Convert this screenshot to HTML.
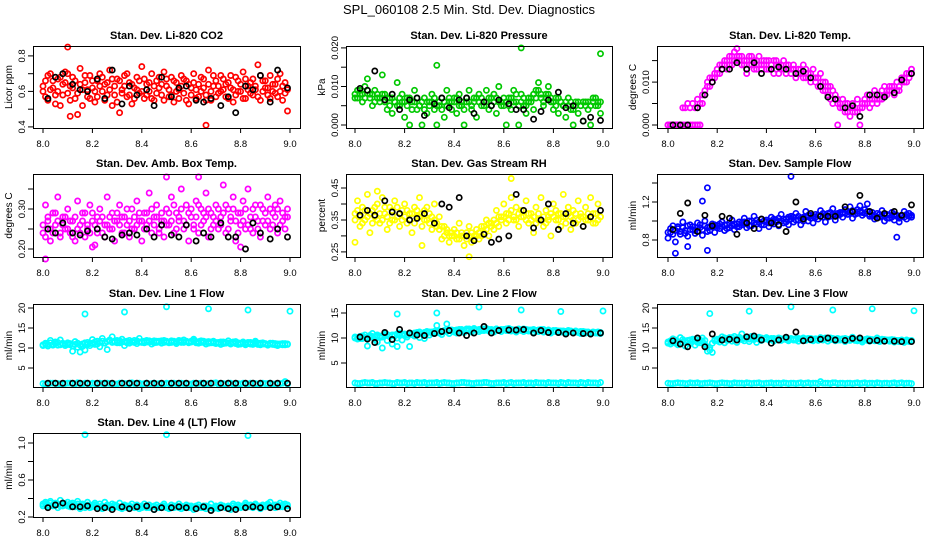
<!DOCTYPE html>
<html><head><meta charset="utf-8"><title>SPL_060108 Diagnostics</title>
<style>
html,body{margin:0;padding:0;background:#fff;}
svg{display:block;font-family:"Liberation Sans",Arial,sans-serif;}
</style></head>
<body>
<svg id="chart" width="936" height="540" viewBox="0 0 936 540" xmlns="http://www.w3.org/2000/svg">
<rect width="936" height="540" fill="#fff"/>
<text x="469" y="14" font-size="13" text-anchor="middle">SPL_060108  2.5 Min. Std. Dev. Diagnostics</text>
</svg>
<script>
// ---------- shared time arrays ----------
const times = [8.00,8.01,8.02,8.03,8.04,8.05,8.06,8.07,8.08,8.09,
8.10,8.11,8.12,8.13,8.14,8.15,8.16,8.17,8.18,8.19,
8.20,8.21,8.22,8.23,8.24,8.25,8.26,8.27,8.28,8.29,
8.30,8.31,8.32,8.33,8.34,8.35,8.36,8.37,8.38,8.39,
8.40,8.41,8.42,8.43,8.44,8.45,8.46,8.47,8.48,8.49,
8.50,8.51,8.52,8.53,8.54,8.55,8.56,8.57,8.58,8.59,
8.60,8.61,8.62,8.63,8.64,8.65,8.66,8.67,8.68,8.69,
8.70,8.71,8.72,8.73,8.74,8.75,8.76,8.77,8.78,8.79,
8.80,8.81,8.82,8.83,8.84,8.85,8.86,8.87,8.88,8.89,
8.90,8.91,8.92,8.93,8.94,8.95,8.96,8.97,8.98,8.99];
const blackTimes = [8.02,8.05,8.08,8.12,8.15,8.18,8.22,8.25,8.28,8.32,8.35,8.38,8.42,8.45,8.48,8.52,8.55,8.58,8.62,8.65,8.68,8.72,8.75,8.78,8.82,8.85,8.88,8.92,8.95,8.99];
const lowTimes = [8.00,8.02,8.04,8.06,8.08,8.10,8.12,8.14,8.16,8.18,8.20,8.22,8.24,8.26,8.28,8.30,8.32,8.34,8.36,8.38,8.40,8.42,8.44,8.46,8.48,8.50,8.52,8.54,8.56,8.58,8.60,8.62,8.64,8.66,8.68,8.70,8.72,8.74,8.76,8.78,8.80,8.82,8.84,8.86,8.88,8.90,8.92,8.94,8.96,8.98];
const lowTimes2 = [8.01,8.03,8.05,8.07,8.09,8.11,8.13,8.15,8.17,8.19,8.21,8.23,8.25,8.27,8.29,8.31,8.33,8.35,8.37,8.39,8.41,8.43,8.45,8.47,8.49,8.51,8.53,8.55,8.57,8.59,8.61,8.63,8.65,8.67,8.69,8.71,8.73,8.75,8.77,8.79,8.81,8.83,8.85,8.87,8.89,8.91,8.93,8.95,8.97,8.99];
const xTicks = [8.0,8.2,8.4,8.6,8.8,9.0];
const xTickLabels = ["8.0","8.2","8.4","8.6","8.8","9.0"];

// ---------- CO2 ----------
const co2Values = [0.60,0.66,0.55,0.70,0.62,0.58,0.67,0.52,0.64,0.71,
0.59,0.63,0.68,0.56,0.47,0.73,0.61,0.65,0.57,0.69,
0.62,0.54,0.66,0.70,0.60,0.64,0.58,0.72,0.52,0.63,
0.67,0.48,0.61,0.69,0.57,0.65,0.53,0.62,0.68,0.59,
0.74,0.56,0.64,0.60,0.70,0.55,0.66,0.62,0.58,0.71,
0.63,0.57,0.68,0.54,0.65,0.61,0.69,0.59,0.66,0.53,
0.62,0.70,0.56,0.64,0.60,0.67,0.58,0.72,0.55,0.63,
0.66,0.59,0.69,0.61,0.57,0.65,0.62,0.54,0.68,0.60,
0.64,0.71,0.56,0.63,0.59,0.67,0.61,0.75,0.55,0.66,
0.62,0.58,0.69,0.60,0.64,0.57,0.70,0.63,0.59,0.49];
const co2Values2 = [0.63,0.57,0.69,0.61,0.66,0.53,0.60,0.68,0.58,0.65,
0.70,0.55,0.62,0.66,0.59,0.64,0.52,0.69,0.61,0.56,
0.66,0.60,0.57,0.63,0.68,0.55,0.65,0.61,0.67,0.58,
0.54,0.66,0.59,0.63,0.70,0.58,0.64,0.56,0.61,0.66,
0.60,0.67,0.58,0.65,0.56,0.63,0.59,0.68,0.64,0.55,
0.67,0.61,0.58,0.66,0.60,0.56,0.63,0.67,0.55,0.64,
0.58,0.65,0.61,0.57,0.68,0.62,0.55,0.64,0.60,0.69,
0.57,0.63,0.60,0.67,0.64,0.56,0.69,0.61,0.58,0.66,
0.60,0.56,0.67,0.61,0.65,0.58,0.63,0.57,0.69,0.60,
0.66,0.62,0.56,0.64,0.59,0.67,0.60,0.55,0.65,0.61];
const co2OutlierTimes = [8.10,8.11,8.66];
const co2OutlierValues = [0.85,0.46,0.41];
const co2Black = [0.56,0.68,0.70,0.64,0.61,0.60,0.67,0.56,0.72,0.53,0.63,0.58,0.61,0.52,0.68,0.57,0.62,0.63,0.55,0.54,0.56,0.52,0.57,0.48,0.63,0.61,0.69,0.54,0.72,0.62];

// ---------- Pressure ----------
const presValues = [0.007,0.009,0.008,0.006,0.010,0.012,0.008,0.005,0.009,0.007,
0.006,0.013,0.008,0.004,0.007,0.003,0.006,0.011,0.005,0.008,
0.002,0.007,0.000,0.006,0.009,0.004,0.005,0.000,0.007,0.003,
0.006,0.008,0.004,0.000,0.005,0.007,0.002,0.009,0.006,0.004,
0.007,0.003,0.008,0.005,0.000,0.006,0.009,0.004,0.007,0.002,
0.008,0.005,0.006,0.009,0.004,0.007,0.008,0.003,0.010,0.006,
0.005,0.000,0.007,0.004,0.009,0.006,0.000,0.008,0.005,0.003,
0.007,0.006,0.004,0.009,0.011,0.007,0.005,0.008,0.010,0.006,
0.004,0.007,0.003,0.006,0.005,0.002,0.007,0.004,0.000,0.006,
0.003,0.005,0.001,0.006,0.004,0.000,0.007,0.005,0.006,0.003];
const presValues2 = [0.008,0.007,0.009,0.008,0.007,0.009,0.007,0.008,0.006,0.008,
0.007,0.008,0.006,0.007,0.005,0.007,0.006,0.005,0.007,0.006,
0.006,0.005,0.007,0.004,0.006,0.007,0.005,0.006,0.004,0.006,
0.005,0.006,0.007,0.005,0.006,0.004,0.006,0.005,0.007,0.006,
0.006,0.007,0.005,0.006,0.004,0.007,0.006,0.005,0.006,0.007,
0.006,0.007,0.005,0.006,0.007,0.005,0.006,0.007,0.006,0.005,
0.007,0.006,0.005,0.007,0.006,0.008,0.005,0.006,0.007,0.005,
0.006,0.007,0.008,0.007,0.009,0.008,0.006,0.007,0.008,0.007,
0.006,0.005,0.007,0.006,0.005,0.006,0.005,0.006,0.004,0.005,
0.006,0.005,0.006,0.005,0.006,0.005,0.006,0.007,0.005,0.006];
const presOutlierTimes = [8.67,8.33,8.99];
const presOutlierValues = [0.020,0.0155,0.0185];
const presBlack = [0.0095,0.009,0.014,0.0065,0.008,0.004,0.0065,0.007,0.0025,0.0055,0.007,0.0045,0.0065,0.007,0.003,0.006,0.005,0.0065,0.0055,0.004,0.004,0.0015,0.0035,0.0065,0.0085,0.0045,0.005,0.001,0.002,0.0012];

// ---------- Li-820 Temp ----------
const ltempValues = [0,0,0,0,0,0,0.004,0,0.005,0,
0.005,0,0.006,0,0.005,0.008,0.009,0.011,0.010,0.012,
0.013,0.012,0.014,0.015,0.013,0.016,0.014,0.017,0.015,0.016,
0.014,0.015,0.012,0.016,0.014,0.015,0.013,0.016,0.014,0.015,
0.013,0.015,0.014,0.012,0.015,0.014,0.013,0.015,0.012,0.014,
0.013,0.014,0.011,0.013,0.012,0.014,0.011,0.012,0.010,0.013,
0.011,0.009,0.012,0.008,0.010,0.007,0.009,0.005,0.007,0.006,
0.004,0.006,0.003,0.005,0.002,0.004,0.003,0.006,0.000,0.004,
0.005,0.007,0.004,0.006,0.008,0.005,0.007,0.006,0.009,0.007,
0.008,0.009,0.007,0.010,0.008,0.010,0.011,0.010,0.012,0.013];
const ltempValues2 = [0,0,0,0,0,0,0,0.004,0,0.004,
0,0.004,0,0.005,0.007,0.007,0.010,0.009,0.011,0.011,
0.012,0.014,0.013,0.014,0.015,0.014,0.016,0.015,0.016,0.015,
0.016,0.014,0.015,0.014,0.016,0.013,0.015,0.014,0.013,0.014,
0.015,0.013,0.014,0.015,0.013,0.012,0.014,0.013,0.014,0.013,
0.012,0.013,0.012,0.012,0.013,0.011,0.013,0.011,0.012,0.011,
0.010,0.011,0.009,0.010,0.008,0.009,0.006,0.008,0.006,0.005,
0.005,0.004,0.005,0.003,0.004,0.005,0.004,0.003,0.004,0.005,
0.006,0.005,0.006,0.005,0.007,0.006,0.006,0.008,0.007,0.008,
0.009,0.008,0.009,0.008,0.009,0.011,0.010,0.012,0.011,0.012];
const ltempOutlierTimes = [8.28,8.69,8.02,8.04,8.13];
const ltempOutlierValues = [0.0178,0.000,0,0,0];
const ltempBlack = [0,0,0,0.004,0.007,0.010,0.013,0.013,0.0145,0.013,0.0145,0.012,0.013,0.0135,0.013,0.012,0.0125,0.011,0.009,0.0065,0.006,0.004,0.0045,0.002,0.007,0.007,0.0065,0.0075,0.0105,0.012];

// ---------- Amb Box Temp ----------
const ambValues = [0.24,0.31,0.27,0.22,0.29,0.26,0.33,0.23,0.28,0.25,
0.30,0.24,0.27,0.22,0.32,0.26,0.29,0.23,0.25,0.31,
0.27,0.21,0.28,0.30,0.24,0.26,0.33,0.25,0.29,0.22,
0.27,0.31,0.24,0.28,0.26,0.23,0.30,0.25,0.32,0.27,
0.22,0.29,0.26,0.34,0.24,0.28,0.31,0.25,0.27,0.23,
0.30,0.26,0.33,0.24,0.29,0.27,0.35,0.25,0.31,0.22,
0.28,0.26,0.32,0.24,0.30,0.27,0.34,0.23,0.29,0.26,
0.31,0.25,0.28,0.36,0.24,0.30,0.27,0.33,0.22,0.29,
0.26,0.32,0.25,0.35,0.28,0.24,0.31,0.27,0.23,0.30,
0.26,0.33,0.25,0.29,0.31,0.24,0.32,0.27,0.28,0.30];
const ambValues2 = [0.26,0.23,0.28,0.25,0.24,0.29,0.27,0.24,0.26,0.28,
0.25,0.27,0.23,0.28,0.25,0.24,0.27,0.29,0.26,0.24,
0.29,0.26,0.24,0.27,0.28,0.23,0.26,0.28,0.25,0.27,
0.29,0.26,0.28,0.24,0.30,0.27,0.25,0.28,0.26,0.29,
0.27,0.25,0.29,0.27,0.30,0.26,0.28,0.24,0.29,0.27,
0.26,0.29,0.27,0.31,0.25,0.28,0.30,0.27,0.26,0.29,
0.30,0.25,0.28,0.31,0.26,0.29,0.28,0.30,0.25,0.28,
0.27,0.30,0.26,0.29,0.31,0.25,0.28,0.30,0.27,0.24,
0.29,0.27,0.30,0.26,0.25,0.30,0.28,0.25,0.31,0.27,
0.29,0.27,0.30,0.26,0.28,0.30,0.26,0.29,0.25,0.28];
const ambOutlierTimes = [8.01,8.50,8.63,8.20,8.80];
const ambOutlierValues = [0.175,0.38,0.38,0.205,0.205];
const ambBlack = [0.25,0.24,0.265,0.24,0.235,0.245,0.25,0.23,0.225,0.235,0.24,0.235,0.25,0.23,0.26,0.235,0.23,0.26,0.22,0.24,0.23,0.265,0.23,0.23,0.20,0.265,0.24,0.225,0.25,0.23];

// ---------- Gas Stream RH ----------
const rhValues = [0.37,0.41,0.33,0.39,0.35,0.43,0.31,0.38,0.36,0.40,
0.34,0.42,0.37,0.32,0.39,0.35,0.41,0.36,0.33,0.38,
0.40,0.34,0.37,0.31,0.39,0.36,0.42,0.33,0.38,0.35,
0.37,0.32,0.40,0.34,0.36,0.29,0.33,0.31,0.28,0.30,
0.32,0.29,0.34,0.30,0.27,0.31,0.33,0.28,0.30,0.32,
0.29,0.33,0.31,0.35,0.30,0.34,0.32,0.38,0.33,0.36,
0.40,0.34,0.37,0.42,0.35,0.39,0.33,0.38,0.36,0.41,
0.34,0.37,0.31,0.39,0.35,0.42,0.33,0.38,0.36,0.30,
0.40,0.35,0.37,0.33,0.43,0.36,0.39,0.32,0.38,0.34,
0.41,0.36,0.33,0.39,0.35,0.42,0.37,0.34,0.40,0.36];
const rhValues2 = [0.35,0.38,0.36,0.34,0.38,0.36,0.37,0.34,0.39,0.35,
0.37,0.35,0.39,0.36,0.34,0.38,0.35,0.39,0.37,0.35,
0.36,0.38,0.35,0.37,0.34,0.38,0.36,0.37,0.35,0.39,
0.34,0.36,0.35,0.33,0.32,0.33,0.30,0.32,0.30,0.31,
0.30,0.31,0.29,0.31,0.30,0.29,0.30,0.31,0.29,0.30,
0.31,0.30,0.33,0.32,0.34,0.33,0.35,0.34,0.36,0.35,
0.36,0.37,0.35,0.38,0.36,0.35,0.37,0.36,0.38,0.35,
0.37,0.35,0.36,0.34,0.37,0.35,0.36,0.34,0.35,0.37,
0.36,0.38,0.35,0.37,0.36,0.34,0.37,0.36,0.35,0.37,
0.35,0.37,0.36,0.35,0.37,0.36,0.34,0.37,0.35,0.36];
const rhOutlierTimes = [8.46,8.63,8.09,8.0,8.27];
const rhOutlierValues = [0.235,0.48,0.44,0.28,0.27];
const rhBlack = [0.365,0.38,0.365,0.41,0.375,0.37,0.35,0.355,0.37,0.34,0.40,0.39,0.42,0.30,0.285,0.305,0.28,0.29,0.30,0.43,0.38,0.325,0.35,0.40,0.32,0.37,0.34,0.33,0.36,0.38];

// ---------- Sample Flow ----------
const sflowValues = [0.82,0.88,0.95,0.78,0.92,0.86,0.99,0.90,0.84,0.96,
0.91,0.87,0.98,0.93,0.85,1.00,0.89,0.94,0.97,0.88,
0.95,0.92,0.99,0.90,0.96,0.93,1.01,0.91,0.97,0.94,
0.98,1.03,0.93,1.00,0.95,1.05,0.97,0.92,1.02,0.96,
0.99,0.94,1.04,0.97,1.01,0.95,1.07,0.98,1.02,0.96,
1.05,0.99,1.08,1.01,0.96,1.04,1.10,1.00,1.06,0.98,
1.07,1.02,1.11,1.04,0.99,1.08,1.05,1.13,1.01,1.06,
1.09,1.04,1.12,1.07,1.15,1.03,1.10,1.08,1.16,1.06,
1.12,1.18,1.05,1.09,1.02,1.08,1.04,1.11,1.00,1.07,
1.03,1.09,1.01,1.06,0.99,1.05,1.10,1.02,1.08,1.04];
const sflowValues2 = [0.88,0.92,0.86,0.90,0.94,0.89,0.93,0.87,0.95,0.91,
0.94,0.90,0.93,0.96,0.91,0.95,0.93,0.90,0.94,0.96,
0.93,0.97,0.94,0.96,0.92,0.98,0.95,0.97,0.94,0.99,
0.96,0.99,0.97,0.95,1.00,0.98,1.01,0.99,0.96,1.00,
1.01,0.98,1.00,1.02,0.99,1.03,1.00,1.02,0.99,1.04,
1.02,1.04,1.01,1.05,1.03,1.00,1.04,1.06,1.03,1.05,
1.04,1.06,1.05,1.08,1.06,1.04,1.09,1.07,1.05,1.08,
1.07,1.09,1.08,1.10,1.09,1.11,1.07,1.12,1.10,1.09,
1.08,1.10,1.07,1.05,1.06,1.04,1.07,1.05,1.06,1.03,
1.06,1.04,1.07,1.05,1.03,1.06,1.04,1.07,1.05,1.06];
const sflowOutlierTimes = [8.50,8.16,8.03,8.16,8.08,8.14,8.93];
const sflowOutlierValues = [1.47,1.35,0.66,0.69,0.73,1.21,0.83];
const sflowBlack = [0.91,1.08,1.19,0.89,1.06,0.95,1.05,1.03,0.86,0.98,0.92,1.02,0.98,0.96,0.89,1.20,1.02,1.08,1.05,1.05,1.05,1.15,1.10,1.27,1.10,1.03,1.08,1.10,1.06,1.17];

// ---------- Line 1 ----------
const line1Values = [10.8,11.2,10.5,11.9,10.9,11.5,10.7,12.0,11.1,10.6,
11.3,10.8,9.2,11.6,10.2,9.0,11.0,9.5,11.4,10.6,
12.1,10.9,11.7,10.3,12.4,11.2,9.6,11.8,12.8,11.5,
11.9,11.3,12.2,10.6,11.7,11.2,11.5,11.9,11.1,12.4,
11.6,11.3,11.9,11.5,11.0,11.8,11.4,11.7,11.2,11.9,
11.5,11.3,11.8,11.6,11.1,11.9,11.4,12.0,11.6,11.3,
11.7,12.2,11.5,11.2,11.8,11.4,11.0,11.6,11.3,11.7,
11.1,11.4,10.9,11.5,11.2,11.8,11.0,11.3,11.6,10.9,
11.2,11.5,10.8,11.1,11.4,10.9,11.7,11.2,10.8,11.3,
11.0,10.7,11.2,10.9,11.1,10.6,11.0,10.8,11.1,10.9];
const line1Values2 = [10.6,11.0,10.9,11.3,10.7,11.1,11.4,10.8,11.2,11.0,
10.9,11.1,10.5,10.9,11.2,10.7,10.4,11.3,10.9,11.1,
11.2,11.5,11.0,11.4,11.7,11.3,11.6,12.0,11.4,11.7,
11.3,11.8,11.5,11.6,11.3,11.9,11.6,11.4,11.8,11.5,
11.4,11.7,11.5,11.8,11.6,11.3,11.7,11.5,11.8,11.4,
11.7,11.5,11.4,11.7,11.5,11.6,11.8,11.4,11.7,11.5,
11.5,11.8,11.3,11.6,11.4,11.7,11.5,11.2,11.5,11.3,
11.4,11.2,11.5,11.1,11.4,11.3,11.2,11.5,11.1,11.3,
11.0,11.3,11.1,11.4,11.0,11.2,11.3,10.9,11.2,11.0,
11.1,10.9,11.0,11.2,10.8,11.0,10.9,11.1,10.8,11.0];
const line1Low = [1.1,1.0,1.2,1.1,1.0,1.2,1.1,1.3,1.0,1.1,1.2,1.0,1.1,1.2,1.1,1.0,1.2,1.1,1.3,1.1,1.0,1.2,1.1,1.0,1.1,1.2,1.0,1.1,1.2,1.1,1.0,1.1,1.2,1.0,1.1,1.3,1.1,1.0,1.2,1.1,1.0,1.1,1.2,1.1,1.0,1.1,1.2,1.0,1.1,1.6];
const line1Low2 = [1.0,1.2,1.1,1.0,1.1,1.2,1.0,1.1,1.2,1.0,1.1,1.2,1.0,1.1,1.0,1.2,1.1,1.0,1.1,1.2,1.1,1.0,1.2,1.1,1.0,1.1,1.2,1.0,1.1,1.0,1.2,1.1,1.0,1.1,1.2,1.0,1.1,1.2,1.0,1.1,1.2,1.0,1.1,1.0,1.2,1.1,1.0,1.1,1.2,1.0];
const line1OutlierTimes = [8.17,8.33,8.50,8.67,8.83,9.00];
const line1OutlierValues = [18.5,19.0,20.3,19.8,19.5,19.2];
const line1Black = [1.2,1.2,1.2,1.2,1.2,1.2,1.2,1.2,1.2,1.2,1.2,1.2,1.2,1.2,1.2,1.2,1.2,1.2,1.2,1.2,1.2,1.2,1.2,1.2,1.2,1.2,1.2,1.2,1.2,1.2];

// ---------- Line 2 ----------
const line2Values = [10.0,9.8,10.3,9.9,10.6,8.4,10.2,10.9,9.7,10.4,
10.1,8.0,10.8,9.5,10.3,8.8,10.6,10.0,11.0,9.6,
10.5,10.2,8.3,10.7,10.4,11.1,10.1,10.8,9.9,11.3,
10.6,11.2,10.9,12.5,11.0,10.7,11.4,12.8,10.9,11.6,
11.2,11.0,11.7,11.4,11.1,11.8,11.5,11.2,11.9,11.6,
11.3,11.8,11.5,11.9,11.4,11.7,11.2,11.8,11.6,11.3,
11.7,11.5,11.9,11.4,11.6,11.2,11.8,11.5,11.3,11.7,
11.4,11.6,11.1,11.5,11.3,11.7,11.2,11.4,11.6,11.0,
11.3,11.5,11.1,11.4,11.2,11.0,11.5,11.3,11.1,11.4,
11.2,10.9,11.3,11.0,11.2,10.8,11.1,11.0,11.2,10.9];
const line2Values2 = [10.2,10.0,9.9,10.4,10.1,10.0,10.5,10.3,10.2,10.6,
10.4,10.2,10.5,10.7,10.3,10.6,10.4,10.8,10.5,10.7,
10.8,10.6,10.9,10.7,11.0,10.8,11.2,10.9,11.1,11.0,
11.2,11.0,11.3,11.1,11.4,11.2,11.5,11.3,11.6,11.4,
11.5,11.6,11.4,11.7,11.5,11.6,11.8,11.5,11.7,11.6,
11.7,11.5,11.8,11.6,11.7,11.5,11.6,11.8,11.5,11.7,
11.6,11.8,11.5,11.7,11.6,11.5,11.7,11.6,11.8,11.5,
11.6,11.5,11.7,11.4,11.6,11.5,11.7,11.4,11.5,11.3,
11.5,11.3,11.4,11.2,11.4,11.3,11.2,11.4,11.2,11.3,
11.1,11.3,11.0,11.2,11.1,11.0,11.2,11.1,11.0,11.1];
const line2Low = [1.0,0.9,1.1,1.0,0.9,1.0,1.1,1.0,0.9,1.0,1.1,1.0,0.9,1.0,1.1,1.0,1.0,0.9,1.1,1.0,0.9,1.0,1.1,1.0,0.9,1.0,1.1,1.0,0.9,1.0,1.1,1.0,0.9,1.0,1.1,1.0,0.9,1.0,1.0,1.1,1.0,0.9,1.0,1.1,1.0,0.9,1.0,1.1,1.0,0.9];
const line2Low2 = [0.9,1.0,1.0,1.1,0.9,1.0,1.0,0.9,1.1,1.0,0.9,1.0,1.1,1.0,0.9,1.0,1.1,1.0,1.0,0.9,1.0,1.1,1.0,0.9,1.0,1.0,1.1,0.9,1.0,1.0,0.9,1.1,1.0,1.0,0.9,1.0,1.1,1.0,0.9,1.0,1.0,1.1,0.9,1.0,1.0,1.1,0.9,1.0,1.0,1.1];
const line2OutlierTimes = [8.17,8.33,8.50,8.67,8.83,9.00,8.09,8.17];
const line2OutlierValues = [14.8,15.0,16.2,15.6,15.3,15.4,9.2,8.3];
const line2Black = [10.2,9.8,9.1,11.1,9.7,11.7,11.0,10.6,10.5,10.9,11.3,11.5,11.0,10.5,11.0,12.3,11.0,11.5,11.6,11.6,11.7,11.0,11.5,11.1,11.1,10.8,11.0,10.9,10.8,11.0];

// ---------- Line 3 ----------
const line3Values = [11.5,11.0,12.3,11.2,10.8,12.6,11.4,10.5,11.9,11.1,
12.2,10.7,11.6,11.3,12.5,10.9,9.2,10.1,8.9,11.8,
12.2,11.5,12.8,11.3,12.0,12.6,11.7,12.9,11.4,12.2,
13.5,11.8,12.4,11.6,12.9,12.1,11.4,12.7,11.9,12.3,
12.6,12.0,12.4,11.7,12.2,12.5,11.9,12.3,12.1,11.8,
12.4,12.0,12.3,11.7,12.2,12.5,11.9,12.1,12.4,11.8,
12.2,11.9,12.6,12.0,12.3,11.7,12.5,12.1,11.8,12.4,
12.0,12.3,11.6,12.2,11.9,12.7,12.1,11.8,12.4,11.5,
12.0,12.3,11.7,12.1,11.9,12.5,11.6,12.2,11.8,12.0,
11.7,12.1,11.5,11.9,11.6,12.0,11.4,11.8,11.6,11.9];
const line3Values2 = [11.2,11.8,11.4,12.0,11.6,11.2,12.1,11.7,11.3,12.0,
11.6,12.2,11.4,12.0,11.7,11.9,10.3,9.5,11.2,12.0,
11.8,12.3,12.0,12.5,11.9,12.2,12.6,12.0,12.4,12.7,
12.1,12.4,12.7,12.2,12.5,12.3,12.6,12.2,12.5,12.2,
12.4,12.3,12.1,12.4,12.2,12.0,12.3,12.2,12.4,12.1,
12.3,12.2,12.0,12.4,12.3,12.1,12.3,12.4,12.0,12.2,
12.3,12.1,12.4,12.2,12.5,12.3,12.1,12.4,12.2,12.0,
12.2,12.1,12.4,12.0,12.2,12.3,11.9,12.1,12.2,11.9,
12.1,11.9,12.2,12.0,11.8,12.1,12.0,11.8,12.1,11.9,
12.0,11.8,12.0,11.7,11.9,11.8,11.7,12.0,11.8,11.7];
const line3Low = [1.2,1.1,1.3,1.2,1.1,1.2,1.3,1.1,1.2,1.2,1.1,1.3,1.2,1.1,1.2,1.2,1.3,1.1,1.2,1.1,1.2,1.3,1.2,1.1,1.2,1.2,1.1,1.3,1.2,1.1,1.2,1.6,1.2,1.1,1.3,1.2,1.1,1.2,1.2,1.1,1.3,1.2,1.1,1.2,1.2,1.1,1.3,1.2,1.1,1.2];
const line3Low2 = [1.1,1.2,1.2,1.1,1.3,1.2,1.1,1.2,1.3,1.1,1.2,1.2,1.1,1.3,1.2,1.1,1.2,1.2,1.3,1.1,1.2,1.1,1.2,1.3,1.1,1.2,1.2,1.1,1.3,1.2,1.1,1.2,1.2,1.3,1.1,1.2,1.2,1.1,1.3,1.2,1.1,1.2,1.3,1.1,1.2,1.2,1.1,1.3,1.2,1.1];
const line3OutlierTimes = [8.17,8.33,8.50,8.67,8.83,9.00];
const line3OutlierValues = [18.6,19.2,20.3,19.5,19.8,19.3];
const line3Black = [11.8,11.0,10.3,12.5,10.3,13.5,12.0,12.2,12.0,12.8,13.0,12.0,11.2,12.0,12.7,14.0,11.8,12.1,12.2,12.5,12.0,11.9,12.4,12.5,11.8,11.9,11.7,11.7,11.6,11.6];

// ---------- Line 4 ----------
const line4Values = [0.34,0.36,0.31,0.37,0.33,0.35,0.30,0.38,0.32,0.34,
0.36,0.31,0.35,0.33,0.37,0.29,0.34,0.32,0.36,0.30,
0.33,0.35,0.31,0.34,0.29,0.36,0.32,0.30,0.34,0.33,
0.31,0.35,0.29,0.33,0.32,0.30,0.34,0.31,0.33,0.29,
0.32,0.34,0.30,0.33,0.31,0.28,0.33,0.30,0.32,0.34,
0.31,0.29,0.33,0.30,0.32,0.34,0.29,0.31,0.33,0.30,
0.32,0.28,0.31,0.33,0.30,0.32,0.29,0.31,0.34,0.30,
0.32,0.29,0.33,0.31,0.30,0.32,0.28,0.34,0.31,0.33,
0.30,0.32,0.35,0.31,0.33,0.30,0.34,0.32,0.29,0.33,
0.31,0.34,0.36,0.32,0.30,0.33,0.35,0.31,0.34,0.32];
const line4Values2 = [0.32,0.34,0.33,0.35,0.32,0.33,0.34,0.32,0.35,0.33,
0.32,0.34,0.33,0.31,0.34,0.32,0.33,0.30,0.33,0.32,
0.31,0.33,0.32,0.30,0.32,0.31,0.33,0.32,0.30,0.31,
0.32,0.30,0.31,0.32,0.30,0.32,0.31,0.30,0.32,0.31,
0.30,0.31,0.32,0.30,0.31,0.32,0.30,0.31,0.30,0.32,
0.30,0.31,0.30,0.32,0.31,0.30,0.32,0.30,0.31,0.32,
0.30,0.31,0.32,0.30,0.31,0.30,0.32,0.31,0.30,0.29,
0.31,0.30,0.31,0.32,0.30,0.31,0.30,0.32,0.30,0.31,
0.32,0.31,0.33,0.32,0.31,0.32,0.33,0.31,0.32,0.31,
0.32,0.33,0.31,0.32,0.33,0.32,0.31,0.33,0.32,0.33];
const line4OutlierTimes = [8.17,8.50,8.83];
const line4OutlierValues = [1.09,1.09,1.08];
const line4Black = [0.30,0.33,0.35,0.31,0.31,0.32,0.29,0.30,0.28,0.31,0.29,0.31,0.32,0.28,0.30,0.30,0.31,0.30,0.29,0.31,0.27,0.30,0.29,0.28,0.30,0.31,0.30,0.30,0.31,0.29];

// ---------- tick arrays ----------
const co2Ticks=[0.4,0.5,0.6,0.7,0.8], co2TickLabels=["0.4","","0.6","","0.8"];
const presTicks=[0,0.005,0.01,0.015,0.02], presTickLabels=["0.000","","0.010","","0.020"];
const ltempTicks=[0,0.005,0.01,0.015], ltempTickLabels=["0.000","","0.010",""];
const ambTicks=[0.2,0.25,0.3,0.35], ambTickLabels=["0.20","","0.30",""];
const rhTicks=[0.25,0.3,0.35,0.4,0.45], rhTickLabels=["0.25","","0.35","","0.45"];
const sflowTicks=[0.8,1.0,1.2,1.4], sflowTickLabels=["0.8","","1.2",""];
const line13Ticks=[5,10,15,20], line13TickLabels=["5","10","15","20"];
const line2Ticks=[5,10,15], line2TickLabels=["5","10","15"];
const line4Ticks=[0.2,0.4,0.6,0.8,1.0], line4TickLabels=["0.2","","0.6","","1.0"];

// ---------- layout ----------
const colL=[33,346,657], colR=[300,612,923], colX8=[43,355,668], colX9=[290,603,914];
const rowT=[46,174,304,433], rowB=[128,257,387,517];

const panels = [
 {name:"co2",title:"Stan. Dev. Li-820 CO2",ylab:"Licor ppm",r:0,c:0,ylim:[0.394,0.856],col:"#ff0000",v:co2Values,v2:co2Values2,oT:co2OutlierTimes,oV:co2OutlierValues,b:co2Black,t:co2Ticks,tl:co2TickLabels},
 {name:"pressure",title:"Stan. Dev. Li-820 Pressure",ylab:"kPa",r:0,c:1,ylim:[-0.00078,0.0205],col:"#00c800",v:presValues,v2:presValues2,oT:presOutlierTimes,oV:presOutlierValues,b:presBlack,t:presTicks,tl:presTickLabels},
 {name:"li820-temp",title:"Stan. Dev. Li-820 Temp.",ylab:"degrees C",r:0,c:2,ylim:[-0.0007,0.0184],col:"#ff00ff",v:ltempValues,v2:ltempValues2,oT:ltempOutlierTimes,oV:ltempOutlierValues,b:ltempBlack,t:ltempTicks,tl:ltempTickLabels},
 {name:"amb-box-temp",title:"Stan. Dev. Amb. Box Temp.",ylab:"degrees C",r:1,c:0,ylim:[0.18,0.3875],col:"#ff00ff",v:ambValues,v2:ambValues2,oT:ambOutlierTimes,oV:ambOutlierValues,b:ambBlack,t:ambTicks,tl:ambTickLabels},
 {name:"gas-stream-rh",title:"Stan. Dev. Gas Stream RH",ylab:"percent",r:1,c:1,ylim:[0.234,0.494],col:"#ffff00",v:rhValues,v2:rhValues2,oT:rhOutlierTimes,oV:rhOutlierValues,b:rhBlack,t:rhTicks,tl:rhTickLabels},
 {name:"sample-flow",title:"Stan. Dev. Sample Flow",ylab:"ml/min",r:1,c:2,ylim:[0.621,1.495],col:"#0000ff",v:sflowValues,v2:sflowValues2,oT:sflowOutlierTimes,oV:sflowOutlierValues,b:sflowBlack,t:sflowTicks,tl:sflowTickLabels},
 {name:"line1-flow",title:"Stan. Dev. Line 1 Flow",ylab:"ml/min",r:2,c:0,ylim:[0.25,21],col:"#00ffff",v:line1Values,v2:line1Values2,low:line1Low,low2:line1Low2,oT:line1OutlierTimes,oV:line1OutlierValues,b:line1Black,t:line13Ticks,tl:line13TickLabels},
 {name:"line2-flow",title:"Stan. Dev. Line 2 Flow",ylab:"ml/min",r:2,c:1,ylim:[0.2,16.8],col:"#00ffff",v:line2Values,v2:line2Values2,low:line2Low,low2:line2Low2,oT:line2OutlierTimes,oV:line2OutlierValues,b:line2Black,t:line2Ticks,tl:line2TickLabels},
 {name:"line3-flow",title:"Stan. Dev. Line 3 Flow",ylab:"ml/min",r:2,c:2,ylim:[0.25,21],col:"#00ffff",v:line3Values,v2:line3Values2,low:line3Low,low2:line3Low2,oT:line3OutlierTimes,oV:line3OutlierValues,b:line3Black,t:line13Ticks,tl:line13TickLabels},
 {name:"line4-flow",title:"Stan. Dev. Line 4 (LT) Flow",ylab:"ml/min",r:3,c:0,ylim:[0.2,1.108],col:"#00ffff",v:line4Values,v2:line4Values2,oT:line4OutlierTimes,oV:line4OutlierValues,b:line4Black,t:line4Ticks,tl:line4TickLabels}
];

const NS="http://www.w3.org/2000/svg";
const svg=document.getElementById("chart");
function mk(tag,attrs,parent){const e=document.createElementNS(NS,tag);for(const k in attrs)e.setAttribute(k,attrs[k]);(parent||svg).appendChild(e);return e;}

panels.forEach(p=>{
  const L=colL[p.c],R=colR[p.c],T=rowT[p.r],B=rowB[p.r];
  const x8=colX8[p.c],x9=colX9[p.c];
  const xs=t=>x8+(t-8)*(x9-x8);
  const ys=v=>B-(v-p.ylim[0])/(p.ylim[1]-p.ylim[0])*(B-T);
  const g=mk("g",{});
  
  
  const cid="clip-"+p.name;
  const cp=mk("clipPath",{id:cid},g);
  mk("rect",{x:L,y:T-8,width:R-L,height:B-T+14},cp);
  const dots=mk("g",{"clip-path":"url(#"+cid+")",fill:"none","stroke-width":"1.7"},g);
  
  
  function dot(t,v,color,nm){
    const c=mk("circle",{cx:xs(t).toFixed(1),cy:ys(v).toFixed(1),r:2.6,stroke:color},dots);
    
    
  }
  if(p.low) p.low.forEach((v,i)=>dot(lowTimes[i],v,p.col,'low-band-point'));
  if(p.low2) p.low2.forEach((v,i)=>dot(lowTimes2[i],v,p.col,'low-band-point'));
  p.v.forEach((v,i)=>dot(times[i],v,p.col,'sample-point'));
  p.v2.forEach((v,i)=>dot(times[i],v,p.col,'sample-point'));
  p.oT.forEach((t,i)=>dot(t,p.oV[i],p.col,'outlier-point'));
  p.b.forEach((v,i)=>dot(blackTimes[i],v,"#000",'average-point'));
  const box=mk("rect",{x:L+0.5,y:T+0.5,width:R-L,height:B-T,fill:"none",stroke:"#000","stroke-width":1},g);
  
  
  const tt=mk("text",{x:(L+R)/2,y:T-7,"font-size":"11","font-weight":"bold","text-anchor":"middle"},g);
  tt.textContent=p.title;
  
  
  const ya=mk("g",{},g);
  
  
  p.t.forEach((v,i)=>{
    const y=ys(v).toFixed(1);
    mk("line",{x1:L,x2:L-5,y1:y,y2:y,stroke:"#000"},ya);
    if(p.tl[i]){
      const tx=mk("text",{x:0,y:0,"font-size":"9.5","text-anchor":"middle",transform:`translate(${L-8},${y}) rotate(-90)`},ya);
      tx.textContent=p.tl[i];
      
      
    }
  });
  const yl=mk("text",{x:0,y:0,"font-size":"10","text-anchor":"middle",transform:`translate(${L-21},${(T+B)/2}) rotate(-90)`},g);
  yl.textContent=p.ylab;
  
  
  const xa=mk("g",{},g);
  
  
  xTicks.forEach((t,i)=>{
    const x=xs(t).toFixed(1);
    mk("line",{x1:x,x2:x,y1:B,y2:B+5,stroke:"#000"},xa);
    const tx=mk("text",{x:x,y:B+19,"font-size":"9.5","text-anchor":"middle"},xa);
    tx.textContent=xTickLabels[i];
    
    
  });
});
</script>
</body></html>
